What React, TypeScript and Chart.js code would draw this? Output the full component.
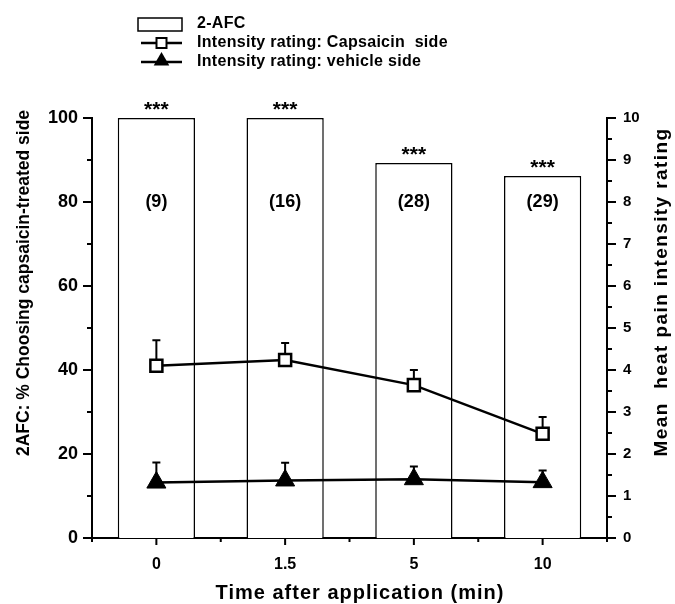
import React, { useEffect, useRef } from "react";
import { Chart, registerables } from "chart.js";

Chart.register(...registerables);

const FONT = '"Liberation Sans", Arial, Helvetica, sans-serif';

// ---- data ----
const categories = ["0", "1.5", "5", "10"];
const afcPercent = [100, 100, 89.3, 86.2];
const sampleSizes = ["(9)", "(16)", "(28)", "(29)"];
const significance = ["***", "***", "***", "***"];
const capsaicinMean = [4.1, 4.24, 3.64, 2.48];
const capsaicinErr = [0.61, 0.4, 0.36, 0.4];
const vehicleMean = [1.32, 1.37, 1.4, 1.33];
const vehicleErr = [0.48, 0.42, 0.3, 0.28];

const leftMax = 100;
const leftMajorStep = 20;
const leftMinorStep = 10;
const rightMax = 10;
const rightMajorStep = 1;
const rightMinorStep = 0.5;
const sampleSizeLevel = 80;

const legendLabels = ["2-AFC", "Intensity rating: Capsaicin  side", "Intensity rating: vehicle side"];
const xTitle = "Time after application (min)";
const yTitle = "2AFC: % Choosing capsaicin-treated side";
const y1Title = "Mean  heat pain intensity rating";

function drawTriangle(ctx: CanvasRenderingContext2D, x: number, y: number, r: number) {
  const h = r * 1.5;
  const half = r * Math.sin(Math.PI / 3);
  ctx.beginPath();
  ctx.moveTo(x, y - r);
  ctx.lineTo(x + half, y - r + h);
  ctx.lineTo(x - half, y - r + h);
  ctx.closePath();
  ctx.fill();
}

const overlayPlugin = {
  id: "overlay",
  afterDatasetDraw(chart: any, args: any) {
    if (args.meta.type !== "bar") return;
    const ctx = chart.ctx as CanvasRenderingContext2D;
    const xs = chart.scales.x;
    const ys = chart.scales.y1;
    ctx.save();
    ctx.strokeStyle = "#000";
    ctx.lineWidth = 2;
    const series: [number[], number[]][] = [
      [capsaicinMean, capsaicinErr],
      [vehicleMean, vehicleErr],
    ];
    for (const [means, errs] of series) {
      means.forEach((m, i) => {
        const x = xs.getPixelForValue(i);
        const y0 = ys.getPixelForValue(m);
        const yt = ys.getPixelForValue(m + errs[i]);
        ctx.beginPath();
        ctx.moveTo(x, y0);
        ctx.lineTo(x, yt);
        ctx.moveTo(x - 4, yt);
        ctx.lineTo(x + 4, yt);
        ctx.stroke();
      });
    }
    ctx.restore();
  },
  afterDraw(chart: any) {
    const ctx = chart.ctx as CanvasRenderingContext2D;
    const xs = chart.scales.x;
    const yl = chart.scales.y;
    const yr = chart.scales.y1;
    const area = chart.chartArea;
    ctx.save();
    ctx.strokeStyle = "#000";
    ctx.fillStyle = "#000";
    ctx.lineWidth = 2;

    // tick marks left
    for (let v = 0; v <= leftMax + 1e-9; v += leftMinorStep) {
      const y = yl.getPixelForValue(v);
      const len = Math.abs(v % leftMajorStep) < 1e-6 ? 9 : 5;
      ctx.beginPath();
      ctx.moveTo(area.left - len, y);
      ctx.lineTo(area.left, y);
      ctx.stroke();
    }
    // tick marks right
    for (let v = 0; v <= rightMax + 1e-9; v += rightMinorStep) {
      const y = yr.getPixelForValue(v);
      const len = Math.abs(v % rightMajorStep) < 1e-6 ? 9 : 5;
      ctx.beginPath();
      ctx.moveTo(area.right, y);
      ctx.lineTo(area.right + len, y);
      ctx.stroke();
    }
    // tick marks x
    for (let i = 0; i <= categories.length; i++) {
      const xb = xs.getPixelForValue(i - 0.5);
      ctx.beginPath();
      ctx.moveTo(xb, area.bottom);
      ctx.lineTo(xb, area.bottom + 4);
      ctx.stroke();
      if (i < categories.length) {
        const xc = xs.getPixelForValue(i);
        ctx.beginPath();
        ctx.moveTo(xc, area.bottom);
        ctx.lineTo(xc, area.bottom + 7);
        ctx.stroke();
      }
    }

    // annotations
    ctx.textAlign = "center";
    afcPercent.forEach((v, i) => {
      const x = xs.getPixelForValue(i);
      const top = yl.getPixelForValue(v);
      ctx.font = `bold 21px ${FONT}`;
      ctx.textBaseline = "alphabetic";
      const m = ctx.measureText(significance[i]);
      const h = m.actualBoundingBoxAscent + m.actualBoundingBoxDescent;
      ctx.fillText(significance[i], x, top - 8 - h + m.actualBoundingBoxAscent);
      ctx.font = `bold 18px ${FONT}`;
      ctx.textBaseline = "middle";
      ctx.fillText(sampleSizes[i], x, yl.getPixelForValue(sampleSizeLevel));
    });

    // axis titles
    ctx.font = `bold 20px ${FONT}`;
    ctx.textBaseline = "middle";
    (ctx as any).letterSpacing = "1px";
    ctx.fillText(xTitle, 360, 593);
    (ctx as any).letterSpacing = "0px";
    ctx.save();
    ctx.translate(24, 283);
    ctx.rotate(-Math.PI / 2);
    ctx.font = `bold 17.5px ${FONT}`;
    ctx.fillText(yTitle, 0, 0);
    ctx.restore();
    ctx.save();
    ctx.translate(662, 292);
    ctx.rotate(-Math.PI / 2);
    ctx.font = `bold 19px ${FONT}`;
    (ctx as any).letterSpacing = "1.4px";
    ctx.fillText(y1Title, 0, 0);
    (ctx as any).letterSpacing = "0px";
    ctx.restore();

    // legend
    ctx.font = `bold 16px ${FONT}`;
    ctx.textAlign = "left";
    ctx.textBaseline = "middle";
    (ctx as any).letterSpacing = "0.3px";
    const lx0 = 138, lx1 = 182, tx = 197;
    const rows = [24, 43, 62];
    ctx.lineWidth = 1.5;
    ctx.strokeRect(lx0, rows[0] - 6, lx1 - lx0, 13);
    ctx.fillText(legendLabels[0], tx, rows[0]);
    ctx.lineWidth = 2.5;
    ctx.beginPath();
    ctx.moveTo(lx0 + 3, rows[1]);
    ctx.lineTo(lx1, rows[1]);
    ctx.moveTo(lx0 + 3, rows[2]);
    ctx.lineTo(lx1, rows[2]);
    ctx.stroke();
    const mx = (lx0 + 3 + lx1) / 2;
    ctx.fillStyle = "#fff";
    ctx.fillRect(mx - 5, rows[1] - 5, 10, 10);
    ctx.lineWidth = 2;
    ctx.strokeRect(mx - 5, rows[1] - 5, 10, 10);
    ctx.fillStyle = "#000";
    drawTriangle(ctx, mx, rows[2] - 1, 9);
    ctx.fillText(legendLabels[1], tx, rows[1]);
    ctx.fillText(legendLabels[2], tx, rows[2]);
    (ctx as any).letterSpacing = "0px";
    ctx.restore();
  },
};

export default function App() {
  const ref = useRef<HTMLCanvasElement | null>(null);
  useEffect(() => {
    if (!ref.current) return;
    const tickFont = (size: number) => ({ family: FONT, size, weight: "bold" as const });
    const chart = new Chart(ref.current, {
      type: "bar",
      data: {
        labels: categories,
        datasets: [
          {
            type: "bar",
            label: legendLabels[0],
            data: afcPercent,
            yAxisID: "y",
            backgroundColor: "#fff",
            borderColor: "#000",
            borderWidth: 1.5,
            barPercentage: 0.6,
            categoryPercentage: 1,
            order: 3,
          } as any,
          {
            type: "line",
            label: legendLabels[1],
            data: capsaicinMean,
            yAxisID: "y1",
            borderColor: "#000",
            borderWidth: 2.5,
            pointStyle: "rect",
            pointRadius: 8.5,
            pointBackgroundColor: "#fff",
            pointBorderColor: "#000",
            pointBorderWidth: 2.5,
            order: 1,
          } as any,
          {
            type: "line",
            label: legendLabels[2],
            data: vehicleMean,
            yAxisID: "y1",
            borderColor: "#000",
            borderWidth: 2.5,
            pointStyle: "triangle",
            pointRadius: 11,
            pointBackgroundColor: "#000",
            pointBorderColor: "#000",
            pointBorderWidth: 1,
            order: 2,
          } as any,
        ],
      },
      options: {
        animation: false,
        responsive: false,
        maintainAspectRatio: false,
        layout: { padding: { top: 118, left: 0, right: 0, bottom: 0 } },
        plugins: { legend: { display: false }, tooltip: { enabled: false } },
        scales: {
          x: {
            type: "category",
            offset: true,
            grid: { display: false, drawTicks: false },
            border: { display: true, color: "#000", width: 2 },
            ticks: { color: "#000", font: tickFont(16), padding: 17, maxRotation: 0 },
            afterFit: (s: any) => {
              s.height = 66;
            },
          },
          y: {
            position: "left",
            min: 0,
            max: leftMax,
            grid: { display: false, drawTicks: false },
            border: { display: true, color: "#000", width: 2 },
            ticks: { color: "#000", font: tickFont(18), stepSize: leftMajorStep, padding: 14 },
            afterFit: (s: any) => {
              s.width = 92;
            },
          },
          y1: {
            position: "right",
            min: 0,
            max: rightMax,
            grid: { display: false, drawTicks: false },
            border: { display: true, color: "#000", width: 2 },
            ticks: { color: "#000", font: tickFont(15), stepSize: rightMajorStep, padding: 16 },
            afterFit: (s: any) => {
              s.width = 68;
            },
          },
        },
      } as any,
      plugins: [overlayPlugin],
    });
    return () => chart.destroy();
  }, []);
  return (
    <div style={{ position: "absolute", left: 0, top: 0, width: 675, height: 604, background: "#fff" }}>
      <canvas ref={ref} width={675} height={604} style={{ display: "block" }} />
    </div>
  );
}
